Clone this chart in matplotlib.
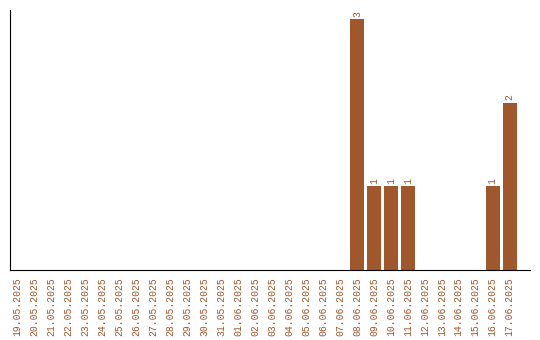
import numpy as np
import matplotlib.pyplot as plt

FARBE = '#a0572b'

datums = ['19.05.2025', '20.05.2025', '21.05.2025', '22.05.2025', '23.05.2025',
          '24.05.2025', '25.05.2025', '26.05.2025', '27.05.2025', '28.05.2025',
          '29.05.2025', '30.05.2025', '31.05.2025', '01.06.2025', '02.06.2025',
          '03.06.2025', '04.06.2025', '05.06.2025', '06.06.2025', '07.06.2025',
          '08.06.2025', '09.06.2025', '10.06.2025', '11.06.2025', '12.06.2025',
          '13.06.2025', '14.06.2025', '15.06.2025', '16.06.2025', '17.06.2025']
anzahl = [0, 0, 0, 0, 0, 0, 0, 0, 0, 0,
          0, 0, 0, 0, 0, 0, 0, 0, 0, 0,
          3, 1, 1, 1, 0, 0, 0, 0, 1, 2]

plt.rcParams['font.family'] = ['Liberation Mono', 'DejaVu Sans Mono']

fig = plt.figure(figsize=(5.4, 3.4), dpi=100)
ax = fig.add_axes([10/540, 70/340, 520/540, 260/340])

x = np.arange(len(datums))
balken = ax.bar(x, anzahl, width=0.82, color=FARBE)

for xi, wert in zip(x, anzahl):
    if wert > 0:
        ax.text(xi, wert + 0.03, str(wert), rotation=90, ha='center', va='bottom',
                fontsize=7, color=FARBE)

ax.set_xticks(x)
ax.set_xticklabels(datums, rotation=90, fontsize=7, color=FARBE)
ax.tick_params(axis='x', length=0, pad=5)
ax.set_yticks([])
ax.set_xlim(-0.45, 30.2)
ax.set_ylim(0, 3.11)
ax.spines['top'].set_visible(False)
ax.spines['right'].set_visible(False)

fig.savefig('out.png', dpi=100)
